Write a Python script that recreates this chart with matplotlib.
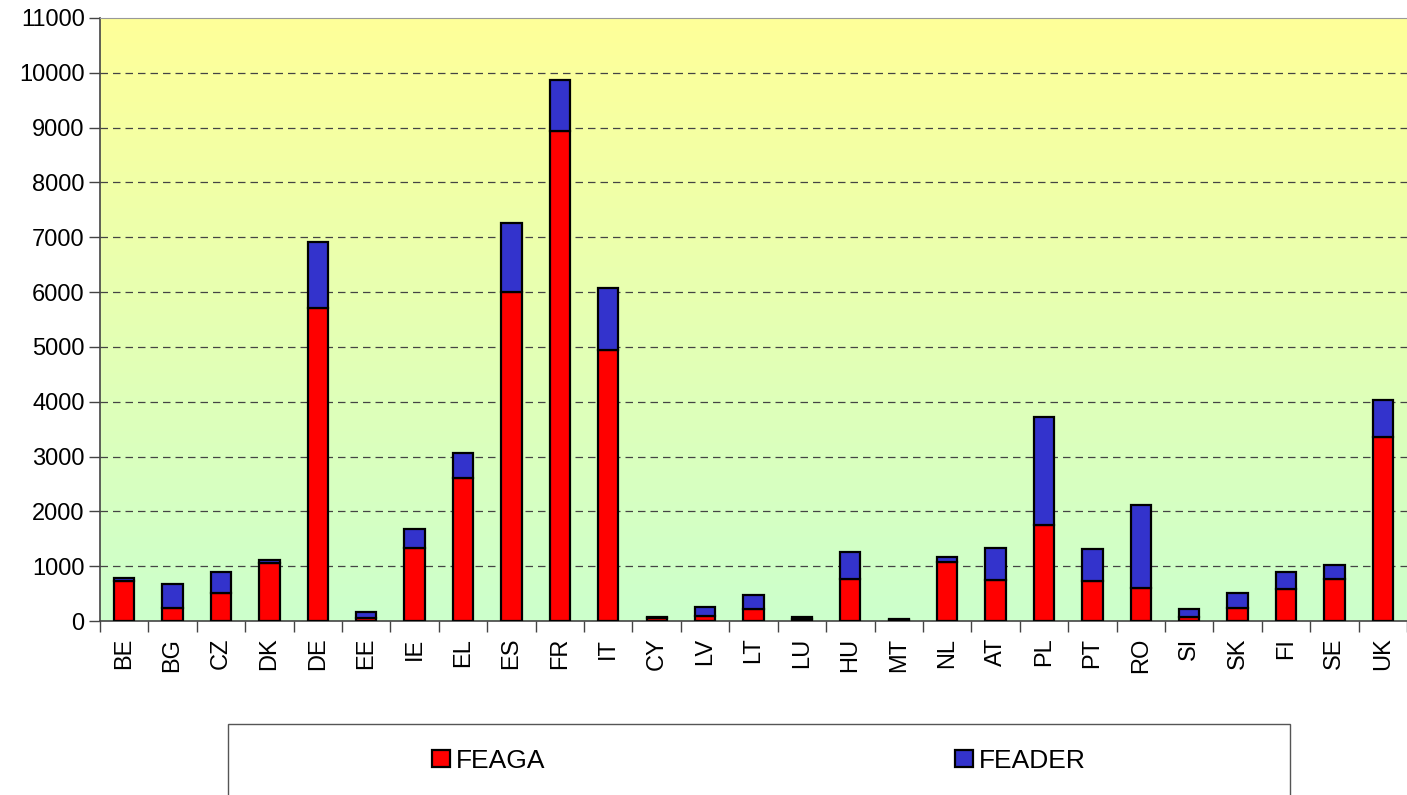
import numpy as np
import matplotlib.pyplot as plt
from matplotlib.colors import LinearSegmentedColormap
from matplotlib.patches import Rectangle

plt.rcParams['font.family'] = ['Liberation Sans', 'DejaVu Sans']

countries = ['BE', 'BG', 'CZ', 'DK', 'DE', 'EE', 'IE', 'EL', 'ES', 'FR', 'IT', 'CY', 'LV', 'LT',
             'LU', 'HU', 'MT', 'NL', 'AT', 'PL', 'PT', 'RO', 'SI', 'SK', 'FI', 'SE', 'UK']
feaga = [725, 230, 515, 1050, 5710, 50, 1340, 2600, 6000, 8930, 4940, 55, 85, 225,
         45, 770, 15, 1080, 750, 1760, 730, 600, 75, 230, 580, 765, 3350]
feader = [60, 440, 385, 65, 1200, 120, 335, 460, 1260, 940, 1130, 25, 165, 255,
          20, 495, 15, 80, 590, 1960, 580, 1510, 150, 275, 310, 260, 680]

fig = plt.figure(figsize=(14.07, 7.95), dpi=100)
ax = fig.add_axes([100 / 1407, 1 - 621 / 795, 1 - 100 / 1407, (621 - 18) / 795])

x = np.arange(len(countries))
n = len(countries)
ax.set_xlim(-0.5, n - 0.5)
ax.set_ylim(0, 11000)

# fond en dégradé jaune -> vert
cmap = LinearSegmentedColormap.from_list('bg', ['#CCFFCC', '#FFFF99'])
grad = np.linspace(0, 1, 256).reshape(-1, 1)
ax.imshow(grad, cmap=cmap, origin='lower', aspect='auto',
          extent=(-0.5, n - 0.5, 0, 11000), zorder=0)

for yv in range(1000, 11000, 1000):
    ax.axhline(yv, color='#444444', linestyle=(0, (6, 4)), linewidth=0.9, zorder=1)

ax.bar(x, feaga, width=0.42, color='#FF0000', edgecolor='black', linewidth=1.6,
       label='FEAGA', zorder=3)
ax.bar(x, feader, width=0.42, bottom=feaga, color='#3333CC', edgecolor='black',
       linewidth=1.6, label='FEADER', zorder=3)

ax.set_yticks(np.arange(0, 11001, 1000))
ax.tick_params(axis='y', labelsize=17, length=8, width=1, color='#444444', pad=3)
ax.set_xticks(x)
ax.set_xticklabels(countries, rotation=90, fontsize=17)
ax.tick_params(axis='x', which='major', length=0, pad=12)
ax.set_xticks(np.arange(-0.5, n, 1), minor=True)
ax.tick_params(axis='x', which='minor', length=8, width=1, color='#444444')

for s in ['left', 'bottom']:
    ax.spines[s].set_color('#444444')
    ax.spines[s].set_linewidth(1.2)
ax.spines['top'].set_color('#999999')
ax.spines['right'].set_visible(False)

# cadre de la légende
fig.patches.append(Rectangle((228 / 1407, -0.01), (1290 - 228) / 1407, 1 - 724 / 795 + 0.01,
                             transform=fig.transFigure, facecolor='white',
                             edgecolor='#555555', linewidth=1))
fig.legend(loc='center', bbox_to_anchor=(759 / 1407, 1 - 761 / 795), ncol=2,
           frameon=False, fontsize=19, handlelength=0.68, handleheight=0.64,
           handletextpad=0.23, columnspacing=15.5)

fig.savefig('out.png', dpi=100)
